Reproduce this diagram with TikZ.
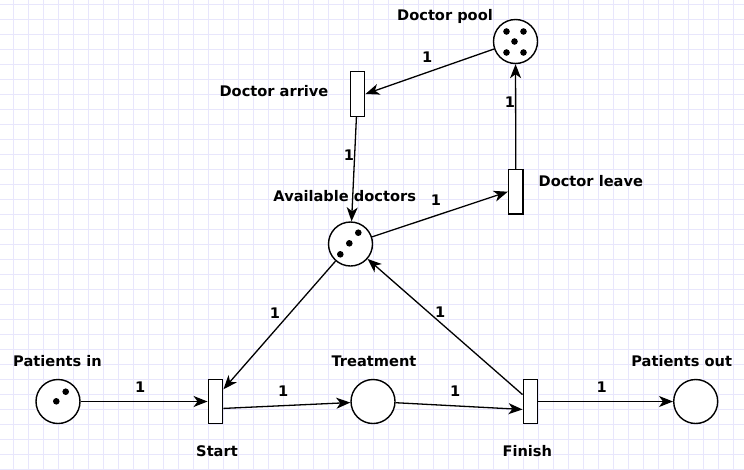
\documentclass[tikz,border=0pt]{standalone}
\usepackage{fontspec}
\setmainfont{DejaVu Sans}
\usepackage{tikz}
\usetikzlibrary{arrows.meta}
\definecolor{gridcol}{RGB}{232,230,252}

\begin{document}
\begin{tikzpicture}[x=1pt, y=-1pt,
  place/.style={circle, draw, fill=white, line width=1.4pt, minimum size=44pt, inner sep=0pt},
  transition/.style={rectangle, draw, fill=white, line width=1.4pt, minimum width=14.5pt, minimum height=44.5pt, inner sep=0pt},
  placelabel/.style={font=\bfseries\fontsize{14.6}{17}\selectfont, inner sep=0pt},
  arcweight/.style={font=\bfseries\fontsize{14.6}{17}\selectfont, inner sep=1pt},
  >={Stealth[length=14pt, width=11pt, inset=4pt]}]
% paper grid
\fill[white] (0,0) rectangle (744,469);
\useasboundingbox (0,0) rectangle (744,469);
\foreach \gx in {13.3,28.3,...,743} \draw[gridcol, line width=0.9pt] (\gx,0) -- (\gx,469);
\foreach \gy in {4,19,...,469} \draw[gridcol, line width=0.9pt] (0,\gy) -- (744,\gy);

% places and transitions
\node[place] (pool) at (515.5,41.5) {};
\node[transition] (arrive) at (357.5,94) {};
\node[place] (avail) at (350.5,244) {};
\node[transition] (leave) at (515.8,191.7) {};
\node[place] (patin) at (58,401.5) {};
\node[transition] (start) at (215.5,401.5) {};
\node[place] (treat) at (373,401.5) {};
\node[transition] (finish) at (530.5,401.5) {};
\node[place] (patout) at (695.7,401.5) {};

% tokens
\foreach \dx/\dy in {-9/-10, 8/-10, -1/0, -9/11, 8/11}
  \fill (pool) ++(\dx,\dy) circle (3.3pt);
\foreach \dx/\dy in {7.8/-11.3, -1.2/-0.7, -10.2/10.3}
  \fill (avail) ++(\dx,\dy) circle (3.3pt);
\foreach \dx/\dy in {7.7/-9.8, -1.7/-0.2}
  \fill (patin) ++(\dx,\dy) circle (3.3pt);

% names
\node[placelabel, anchor=base] (poollab) at (445,20.7) {Doctor pool};
\node[placelabel, anchor=base] (arrivelab) at (274,96) {Doctor arrive};
\node[placelabel, anchor=base] (availlab) at (344.7,201) {Available doctors};
\node[placelabel, anchor=base] (leavelab) at (590.8,186) {Doctor leave};
\node[placelabel, anchor=base] (patinlab) at (57.5,366) {Patients in};
\node[placelabel, anchor=base] (startlab) at (217,456) {Start};
\node[placelabel, anchor=base] (treatlab) at (374,366) {Treatment};
\node[placelabel, anchor=base] (finishlab) at (527.3,456) {Finish};
\node[placelabel, anchor=base] (patoutlab) at (681.7,366) {Patients out};

% arcs
\path[->, line width=1.3pt]
(patin) edge node[arcweight, pos=0.47, above=7.5pt] {1} (start)
(start.-41) edge node[arcweight, pos=0.47, above=7.5pt] {1} (treat)
(treat) edge node[arcweight, pos=0.47, above=7.5pt] {1} (finish.-135)
(finish) edge node[arcweight, pos=0.47, above=7.5pt] {1} (patout)
(avail) edge node[arcweight, pos=0.41, left=8pt] {1} (start.57)
(finish.139) edge node[arcweight, pos=0.61, right=5.5pt] {1} (avail)
(avail) edge node[arcweight, pos=0.47, above=8.5pt] {1} (leave.west)
(leave) edge node[arcweight, pos=0.64, left=-1pt] {1} (pool)
(pool) edge node[arcweight, pos=0.52, above=8.5pt] {1} (arrive.east)
(arrive) edge node[arcweight, pos=0.37, left=-1pt] {1} (avail)
;
\end{tikzpicture}
\end{document}
